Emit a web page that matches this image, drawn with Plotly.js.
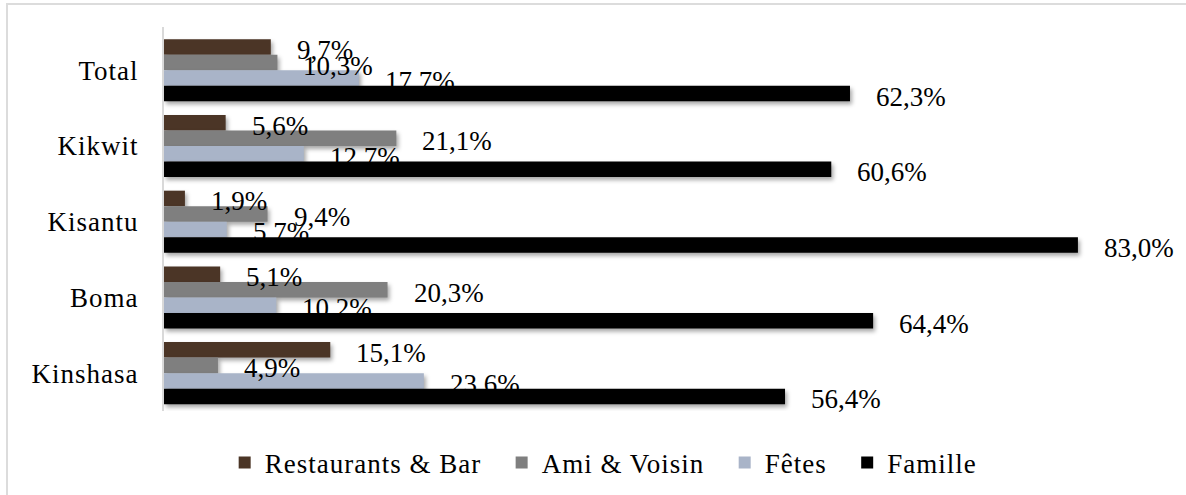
<!DOCTYPE html>
<html>
<head>
<meta charset="utf-8">
<script src="https://cdn.plot.ly/plotly-3.0.1.min.js"></script>
<style>
  html, body { margin: 0; padding: 0; background: #fff; }
  #wrap { position: relative; width: 1186px; height: 495px; }
  #chart { width: 1186px; height: 495px; }
  #frame { position: absolute; left: 6px; top: 3px; right: -10px; bottom: -10px;
           border-left: 2px solid #dcdcdc; border-top: 2px solid #dcdcdc; pointer-events: none; }
  .trace.bars path { filter: drop-shadow(2px 3px 2px rgba(0,0,0,0.35)); }
  text.legendtext { letter-spacing: 1px; }
  g.ytick text { letter-spacing: 1px; }
</style>
</head>
<body>
<div id="wrap">
  <div id="chart"></div>
  <div id="frame"></div>
</div>
<script>
const categories = ["Total", "Kikwit", "Kisantu", "Boma", "Kinshasa"];
const seriesNames = ["Restaurants & Bar", "Ami & Voisin", "Fêtes", "Famille"];
const restaurants = [9.7, 5.6, 1.9, 5.1, 15.1];
const amiVoisin = [10.3, 21.1, 9.4, 20.3, 4.9];
const fetes = [17.7, 12.7, 5.7, 10.2, 23.6];
const famille = [62.3, 60.6, 83.0, 64.4, 56.4];
const colors = ["#4b3526", "#7f7f7f", "#a9b4c8", "#000000"];

const seriesValues = [restaurants, amiVoisin, fetes, famille];
const FONT = "Liberation Serif, Times New Roman, serif";
const FS = 27;
const bargap = 0.18;

const fmt = v => v.toFixed(1).replace('.', ',') + '%';
const pad = '\u00a0\u00a0';

const traces = seriesValues.map((vals, j) => ({
  type: 'bar',
  orientation: 'h',
  name: seriesNames[j] + (j < seriesValues.length - 1 ? pad : ''),
  x: vals,
  y: categories,
  marker: { color: colors[j] },
  hoverinfo: 'skip'
}));

const nS = seriesValues.length;
const groupW = 1 - bargap;
const annotations = [];
seriesValues.forEach((vals, j) => {
  const off = -groupW / 2 + (j + 0.5) * groupW / nS;
  vals.forEach((v, i) => {
    annotations.push({
      x: v, y: i + off, xref: 'x', yref: 'y',
      text: fmt(v), showarrow: false,
      xanchor: 'left', yanchor: 'middle',
      xshift: 24, yshift: -3,
      font: { family: FONT, size: FS, color: '#000' }
    });
  });
});

const layout = {
  width: 1186, height: 495,
  margin: { l: 164, r: 31, t: 27, b: 84, pad: 0, autoexpand: false },
  paper_bgcolor: '#fff', plot_bgcolor: '#fff',
  barmode: 'group', bargap: bargap, bargroupgap: 0,
  font: { family: FONT, size: FS, color: '#000' },
  xaxis: { range: [0, 90], showgrid: false, zeroline: false, showticklabels: false, showline: false, fixedrange: true },
  yaxis: {
    type: 'category', categoryorder: 'array', categoryarray: categories,
    autorange: 'reversed',
    showline: true, linecolor: '#d9d9d9', linewidth: 2,
    showgrid: false, zeroline: false, ticks: '',
    ticklabelstandoff: 18,
    tickfont: { family: FONT, size: FS, color: '#000' }
  },
  showlegend: true,
  legend: {
    orientation: 'h', xref: 'container', yref: 'container',
    x: 0.509, xanchor: 'center', y: 0.0646, yanchor: 'middle',
    font: { family: FONT, size: FS, color: '#000' },
    traceorder: 'normal', itemclick: false
  },
  annotations: annotations
};

Plotly.newPlot('chart', traces, layout, { displayModeBar: false, staticPlot: true });
</script>
</body>
</html>
